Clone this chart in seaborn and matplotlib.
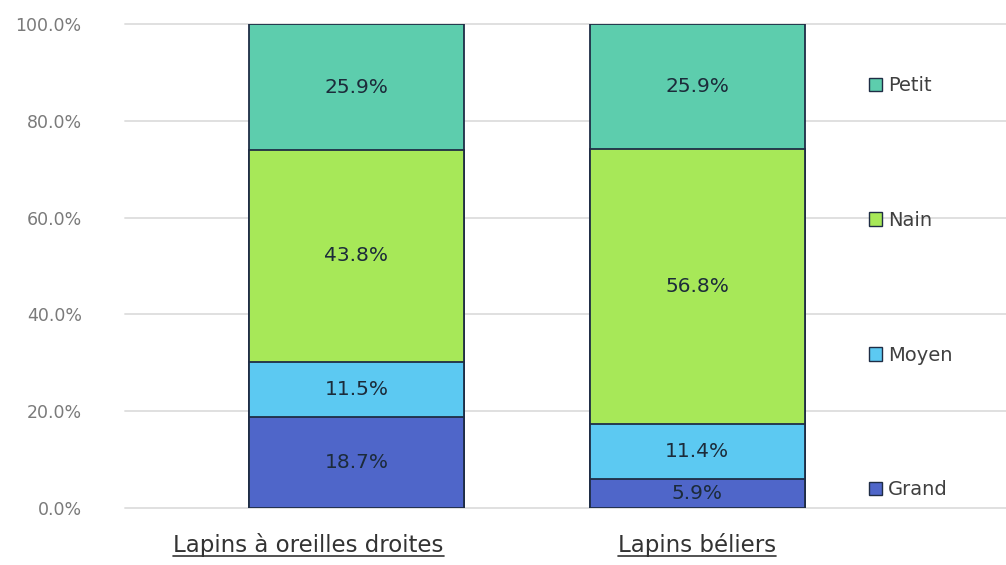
import matplotlib
matplotlib.use("Agg")
import matplotlib.pyplot as plt
import matplotlib.transforms as mtransforms
from matplotlib.lines import Line2D
from matplotlib.patches import Patch
import numpy as np
import seaborn as sns

# data (percent), segments from bottom to top
categories = ["Lapins à oreilles droites", "Lapins béliers"]
sizes = ["Grand", "Moyen", "Nain", "Petit"]
grand = [18.7, 5.9]
moyen = [11.5, 11.4]
nain = [43.8, 56.8]
petit = [25.9, 25.9]
yticks = [0, 20, 40, 60, 80, 100]

palette = {"Grand": "#4f66c9", "Moyen": "#5cc9f2", "Nain": "#a7e858", "Petit": "#5dcdad"}
edge = "#1f2d45"

sns.set_theme(style="white")
plt.rcParams["font.family"] = ["DejaVu Sans"]

fig = plt.figure(figsize=(10.06, 5.65), dpi=100)
ax = fig.add_axes([0.124, 0.1009, 0.876, 0.8566])

values = np.array([grand, moyen, nain, petit])
stacked = np.cumsum(values, axis=0)

# draw from the top segment down so lower ones overlay
for i in reversed(range(len(sizes))):
    sns.barplot(x=categories, y=stacked[i], color=palette[sizes[i]], saturation=1,
                width=0.63, edgecolor=edge, linewidth=1.3, ax=ax, zorder=2)

for i in range(len(sizes)):
    for j in range(len(categories)):
        mid = stacked[i][j] - values[i][j] / 2
        ax.text(j, mid, f"{values[i][j]:.1f}%", ha="center", va="center",
                fontsize=14.5, color="#1c2b3a", zorder=3)

ax.set_ylim(0, 100)
ax.set_xlim(-0.68, 1.906)
ax.set_yticks(yticks)
ax.set_yticklabels([f"{t:.1f}%" for t in yticks], fontsize=12.5, color="#7a7a7a")
ax.yaxis.grid(True, color="#e0e0e0", linewidth=1.4, clip_on=False)
ax.set_axisbelow(True)
sns.despine(ax=ax, left=True, bottom=True)
ax.tick_params(axis="y", length=0, pad=31)
ax.tick_params(axis="x", length=0, pad=18)
ax.set_xlabel("")
ax.set_ylabel("")

ax.set_xticks(range(len(categories)))
ax.set_xticklabels(categories, fontsize=16.5, color="#333333")
first = ax.get_xticklabels()[0]
first.set_transform(first.get_transform() +
                    mtransforms.ScaledTranslation(-0.48, 0, fig.dpi_scale_trans))

handles = [Patch(facecolor=palette[s], edgecolor=edge, linewidth=1.0) for s in reversed(sizes)]
fig.legend(handles, list(reversed(sizes)), loc="upper left", bbox_to_anchor=(0.846, 0.896),
           frameon=False, fontsize=14, handlelength=0.7, handleheight=0.7,
           handletextpad=0.3, labelspacing=5.95, labelcolor="#404040")

# underline the category labels
fig.canvas.draw()
inv = fig.transFigure.inverted()
for lab in ax.get_xticklabels():
    bb = lab.get_window_extent().transformed(inv)
    fig.add_artist(Line2D([bb.x0, bb.x1], [bb.y0 + 0.002, bb.y0 + 0.002],
                          color="#333333", linewidth=1.2, transform=fig.transFigure))

fig.savefig("out.png", dpi=100)
